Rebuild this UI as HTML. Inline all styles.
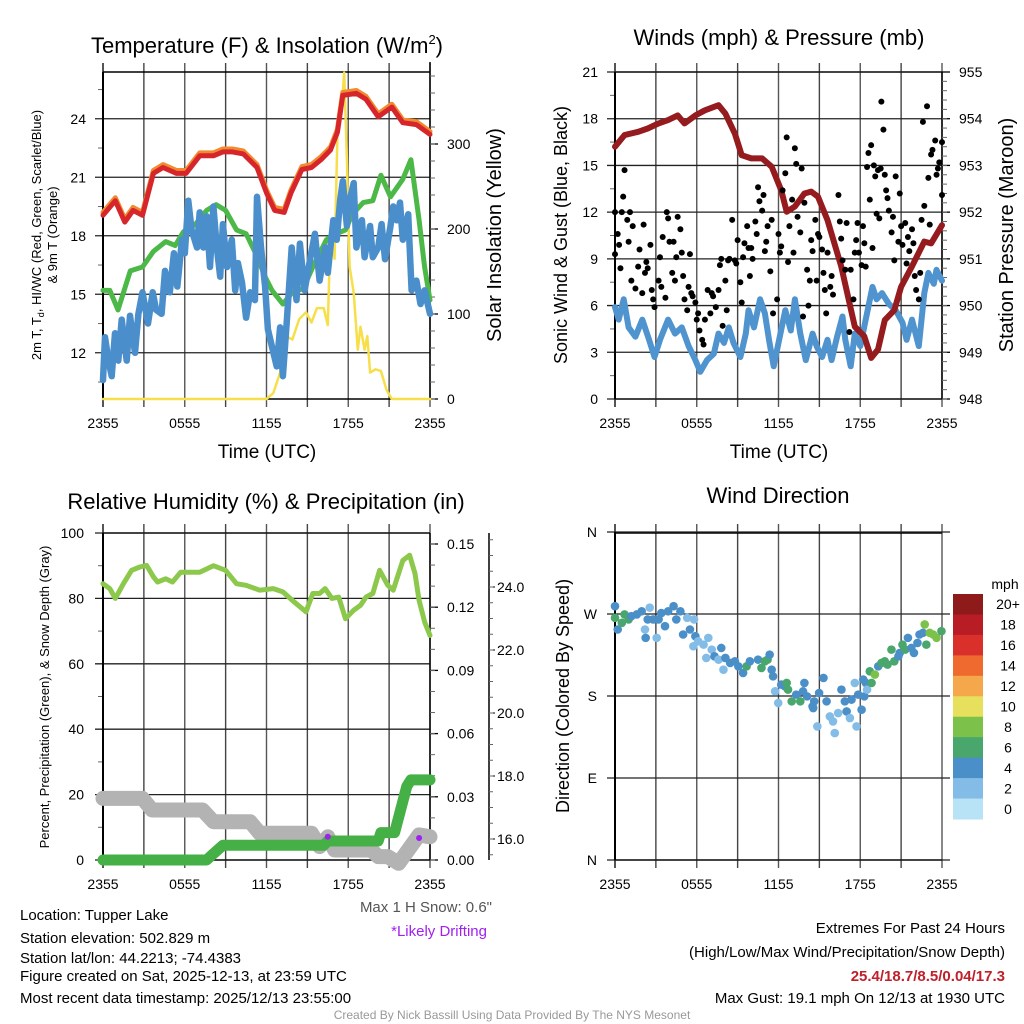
<!DOCTYPE html>
<html><head><meta charset="utf-8"><style>
html,body{margin:0;padding:0;background:#fff}
svg{display:block;font-family:"Liberation Sans",sans-serif}
</style></head><body>
<svg id="fig" width="1024" height="1024" viewBox="0 0 1024 1024" xmlns="http://www.w3.org/2000/svg">
<text x="267" y="53" font-size="22" text-anchor="middle">Temperature (F) &amp; Insolation (W/m<tspan font-size="13" dy="-9">2</tspan><tspan dy="9">)</tspan></text>
<text x="779" y="45" font-size="22" text-anchor="middle">Winds (mph) &amp; Pressure (mb)</text>
<text x="266" y="509" font-size="22" text-anchor="middle">Relative Humidity (%) &amp; Precipitation (in)</text>
<text x="778" y="503" font-size="22" text-anchor="middle">Wind Direction</text>
<g id="g1"></g>
<g id="g2"></g>
<g id="g3"></g>
<g id="g4"></g>
<g font-size="15">
<text x="20" y="920">Location: Tupper Lake</text>
<text x="20" y="943">Station elevation: 502.829 m</text>
<text x="20" y="963">Station lat/lon: 44.2213; -74.4383</text>
<text x="20" y="981">Figure created on Sat, 2025-12-13, at 23:59 UTC</text>
<text x="20" y="1003">Most recent data timestamp: 2025/12/13 23:55:00</text>
<text x="492" y="912" text-anchor="end" fill="#555">Max 1 H Snow: 0.6"</text>
<text x="487" y="936" text-anchor="end" fill="#a020f0">*Likely Drifting</text>
<text x="1005" y="933" text-anchor="end">Extremes For Past 24 Hours</text>
<text x="1005" y="957" text-anchor="end">(High/Low/Max Wind/Precipitation/Snow Depth)</text>
<text x="1005" y="981" text-anchor="end" fill="#c0202a" font-weight="bold">25.4/18.7/8.5/0.04/17.3</text>
<text x="1005" y="1003" text-anchor="end">Max Gust: 19.1 mph On 12/13 at 1930 UTC</text>
<text x="512" y="1019" text-anchor="middle" fill="#999" font-size="12">Created By Nick Bassill Using Data Provided By The NYS Mesonet</text>
</g>
</svg>
<script>
// ---- data ----
const timeTicks=['2355','0555','1155','1755','2355'];
const tRedH=[0,0.9,1.6,2.2,2.9,3.7,4.4,5.4,6.1,7.1,8.1,8.8,9.5,10.3,11.3,12.0,12.6,13.3,13.8,14.6,15.3,16.0,16.7,17.2,17.6,18.6,19.3,20.2,21.2,22.0,23.0,24.0];
const tRedV=[19.05,19.8,18.7,19.3,19.05,21.2,21.5,21.2,21.2,22.1,22.1,22.3,22.3,22.2,21.5,20.2,19.3,19.2,20.2,21.4,21.5,21.9,22.4,23.3,25.2,25.3,25.0,24.1,24.6,23.8,23.7,23.2];
const tGreenH=[0,0.5,1.1,2.0,2.9,3.7,4.6,5.3,5.9,6.8,7.6,8.3,9.0,9.8,10.5,11.2,11.9,12.4,13.2,13.9,14.7,15.4,16.4,17.1,17.8,18.3,19.1,19.8,20.4,21.1,22.0,22.6,23.2,23.6,24.0];
const tGreenV=[15.2,15.2,14.2,16.2,16.4,17.2,17.7,17.5,18.2,18.6,19.3,19.6,19.3,18.3,18.1,17.1,15.9,15.2,14.5,15.1,15.3,16.4,17.8,18.1,18.3,19.1,19.7,19.8,21.1,20.0,20.9,21.9,18.8,16.4,14.7];
const tBlueH=[0,0.15,0.4,0.64,0.88,1.12,1.37,1.74,1.98,2.35,2.6,2.9,3.3,3.65,3.9,4.3,4.55,4.9,5.2,5.45,5.8,6.0,6.26,6.5,6.9,7.1,7.36,7.6,7.85,8.1,8.35,8.6,8.8,9.1,9.45,9.7,9.9,10.2,10.5,10.8,11.15,11.3,11.6,11.9,12.1,12.4,12.75,13.0,13.2,13.5,13.85,14.2,14.45,14.8,15.2,15.55,15.9,16.3,16.5,16.9,17.15,17.4,17.6,17.9,18.1,18.4,18.6,19.0,19.2,19.6,19.8,20.2,20.45,20.7,21.1,21.3,21.55,21.8,22.0,22.4,22.65,23.0,23.3,23.6,24.0];
const tBlueV=[10.6,12.8,11.6,10.8,13.0,11.6,13.7,11.6,13.9,12.0,14.0,15.1,13.5,15.1,14.2,14.0,16.2,15.1,17.1,15.4,17.8,17.1,19.8,18.3,17.4,19.2,17.4,19.0,16.4,19.5,17.4,15.9,18.6,16.4,17.8,15.2,16.6,15.6,13.8,15.1,14.7,20.0,17.4,15.4,13.2,12.3,11.3,13.3,10.8,13.7,17.4,14.7,17.6,15.2,16.8,18.1,15.7,17.4,16.1,18.8,17.8,19.8,20.8,18.5,19.8,20.7,17.4,18.8,16.9,18.5,16.9,17.4,18.6,16.8,18.5,19.5,18.8,19.7,17.8,19.1,15.2,15.7,14.5,15.2,14.0];
const solarH=[0,12.0,12.5,13.0,13.4,13.9,14.4,14.9,15.3,15.7,16.2,16.5,16.7,17.0,17.2,17.5,17.7,17.9,18.1,18.4,18.7,18.9,19.2,19.4,19.6,20.0,20.4,20.8,21.2,21.7,24.0];
const solarV=[0,0,7,31,74,70,94,102,90,107,107,87,199,165,309,340,384,282,156,125,58,85,58,74,31,35,33,11,0,0,0];
const windH=[0,0.27,0.64,1.0,1.5,2.0,2.5,2.9,3.3,3.9,4.4,4.9,5.4,5.9,6.26,6.75,7.25,7.6,8.0,8.35,8.7,9.2,9.6,9.8,10.2,10.65,11.0,11.3,11.65,12.0,12.5,12.9,13.2,13.6,14.0,14.5,14.8,15.2,15.6,15.9,16.3,16.7,16.9,17.3,17.6,18.0,18.4,18.9,19.2,19.6,20.1,20.6,21.1,21.4,21.8,22.3,22.7,23.0,23.4,23.6,24.0];
const windV=[5.9,5.1,6.4,4.6,4.0,5.1,3.8,2.7,3.8,5.1,4.2,4.6,3.4,2.5,1.75,2.5,2.9,4.2,3.6,4.6,3.6,2.7,4.2,5.7,4.6,6.4,5.5,3.8,2.1,3.6,5.7,4.4,6.4,4.2,2.5,4.2,3.4,2.7,3.8,2.5,4.0,5.3,3.8,2.1,4.2,3.4,5.1,7.2,6.4,6.8,6.1,5.7,4.9,3.8,5.1,3.4,6.8,8.1,7.4,8.3,7.6];
const presH=[0,0.7,1.7,2.4,3.2,3.9,4.6,5.1,5.9,6.6,7.6,8.1,8.8,9.3,10.0,10.8,11.5,12.2,12.6,13.2,13.9,14.4,14.9,15.6,16.6,17.6,18.3,18.8,19.3,19.8,20.5,21.0,21.8,22.7,23.2,24.0];
const presV=[953.40,953.65,953.72,953.79,953.90,953.97,954.07,953.90,954.07,954.18,954.29,954.11,953.68,953.22,953.15,953.15,952.97,952.47,952.01,952.12,952.40,952.44,952.33,951.83,950.84,949.55,949.34,948.88,949.06,949.69,949.90,950.40,950.84,951.37,951.33,951.72];
const gustH=[0,0,0.2,0.3,0.4,0.7,0.6,0.5,0.9,1.0,1.1,1.2,1.5,1.3,1.7,1.8,2.0,2.1,2.2,2.3,2.4,2.6,2.7,2.8,2.9,3.2,3.3,3.4,3.5,3.7,3.8,3.9,4.0,4.2,4.3,4.4,4.5,4.6,4.8,4.9,5.0,5.1,5.3,5.4,5.5,5.6,5.7,5.9,6.0,6.1,6.2,6.4,6.5,6.6,6.8,7.0,7.1,7.2,7.4,7.6,7.7,7.8,7.9,8.1,8.2,8.3,8.4,8.6,8.8,8.9,9.0,9.2,9.3,9.4,9.5,9.7,9.8,9.9,10.0,10.1,10.3,10.4,10.5,10.6,10.8,10.9,11.0,11.1,11.2,11.4,11.5,11.6,11.9,12.0,12.1,12.2,12.3,12.5,12.6,12.7,12.8,13.0,13.1,13.2,13.3,13.4,13.6,13.7,13.8,13.9,14.1,14.2,14.3,14.4,14.5,14.7,14.8,14.9,15.0,15.2,15.3,15.4,15.5,15.6,15.8,15.9,16.0,16.4,16.5,16.6,16.7,16.9,17.0,17.2,17.3,17.5,17.6,17.7,17.8,17.9,18.1,18.2,18.3,18.4,18.5,18.6,18.7,18.8,18.9,19.0,19.1,19.2,19.3,19.4,19.5,19.55,19.7,19.8,19.9,20.0,20.1,20.3,20.4,20.5,20.6,20.8,20.9,21.0,21.1,21.3,21.4,21.5,21.6,21.8,21.9,22.0,22.1,22.3,22.4,22.5,22.6,22.7,22.9,23.0,23.1,23.2,23.3,23.5,23.6,23.7,23.8,24.0,24.0];
const gustV=[12.0,9.3,10.6,9.9,8.4,14.7,13.0,12.0,11.5,10.1,12.0,7.6,7.1,11.1,8.5,9.6,6.8,11.2,8.1,8.8,8.4,9.9,7.0,6.4,5.9,7.6,9.1,7.2,10.4,6.5,12.0,11.6,10.1,8.1,10.1,7.6,9.1,11.7,10.9,9.4,7.9,6.4,5.7,7.2,9.3,6.8,6.6,6.2,5.1,5.5,4.4,3.8,3.5,5.1,7.0,5.5,6.8,6.6,5.9,7.0,8.6,9.0,4.7,7.6,5.7,8.9,9.0,11.5,8.9,8.7,10.2,7.5,6.2,9.1,10.0,11.1,9.7,7.9,9.7,9.0,11.4,10.6,13.6,12.7,12.1,13.1,9.5,10.1,11.1,8.2,11.5,5.5,6.4,10.6,9.4,9.8,13.4,14.5,16.8,8.8,11.1,12.8,9.4,16.1,15.1,11.7,10.7,14.8,5.3,12.6,8.3,6.0,7.6,10.2,9.5,11.5,7.6,10.6,10.4,9.6,8.1,7.0,5.5,9.4,7.2,7.9,6.7,13.1,11.4,10.3,8.9,8.3,11.3,4.3,8.3,6.4,9.4,10.2,11.3,9.4,8.6,11.1,10.0,8.5,14.9,15.8,12.8,16.3,9.7,15.0,14.3,11.9,14.7,11.6,14.8,19.1,17.3,14.4,13.4,12.9,12.1,10.7,11.7,8.9,14.3,10.1,13.2,11.1,9.9,11.3,8.7,10.4,9.5,10.9,10.0,7.9,7.0,6.4,8.1,11.5,17.8,12.4,18.8,14.2,11.2,15.7,16.0,16.6,14.4,14.8,15.2,13.1,16.5];
const rhH=[0,0.5,0.9,1.5,2.1,2.7,3.2,3.7,4.0,4.6,5.1,5.7,7.1,8.1,9.0,9.8,10.5,11.5,12.5,13.2,13.9,14.9,15.4,15.9,16.3,16.8,17.3,17.8,18.4,18.9,19.3,19.8,20.3,20.9,21.3,22.0,22.5,22.9,23.2,23.6,24.0];
const rhV=[84.5,83,80,84.5,88.6,89.6,90.1,86.6,85,86,85,88,88,90,88.6,84.5,84,82.5,83,82,79.4,75.9,81.5,81.5,83,80,80.4,73.8,76.4,77.9,80.4,81.5,88.6,84,82.5,91.6,93.2,87.6,79.4,72.8,68.7];
const precipH=[0,7.6,8.1,8.8,16.2,16.5,20.2,20.4,21.4,22.3,22.6,24.0];
const precipV=[0,0,0.003,0.007,0.007,0.009,0.009,0.013,0.013,0.035,0.038,0.038];
const snowH=[0,2.9,3.6,7.3,8.1,10.8,11.5,15.3,15.9,16.5,17.0,19.7,20.2,20.9,21.7,22.4,23.2,24.0];
const snowV=[17.29,17.29,16.92,16.92,16.55,16.55,16.18,16.18,15.76,16.07,15.65,15.65,15.44,15.44,15.23,15.65,16.13,16.07];
const driftH=[16.5,23.2];
const driftV=[16.07,16.03];
const dirH=[0,0,0.2,0.5,0.7,1.0,1.2,1.6,1.96,2.2,2.25,2.4,2.55,2.8,3.06,3.2,3.4,3.67,3.9,4.3,4.5,4.8,5.0,5.3,5.5,5.8,5.9,5.75,6.1,6.5,6.85,6.7,7.1,7.3,7.6,7.8,7.96,8.1,8.45,8.8,9.05,9.4,9.66,9.9,10.5,10.75,11.0,11.2,11.35,11.5,11.6,11.75,11.98,12.2,12.47,12.6,12.7,12.97,13.3,13.6,13.8,13.9,14.1,14.5,14.62,14.55,14.85,14.98,15.3,15.53,15.77,16.0,16.13,16.38,16.62,16.87,17.0,17.24,17.36,17.6,17.73,17.85,18.1,18.22,18.3,18.41,18.5,18.7,18.83,19.07,19.32,19.56,19.8,20.0,20.29,20.5,20.8,20.9,21.1,21.3,21.5,21.75,21.94,22.2,22.35,22.6,22.73,22.85,23.1,23.35,23.6,23.96];
const dirV=[278.6,265.8,253,260.3,269.5,264,267.6,269.5,273,253,243.8,264,277,264,243.8,264,271,256.6,273,278.6,264,273,247.5,265.8,253,264,245.6,234.6,240,236.4,243.8,221.8,230.9,223.6,219.9,232.7,208.9,221.8,216.3,218.1,212.6,205.3,212.6,218.1,219.9,210.8,218.1,219.9,225.4,208.9,201.6,185.1,172.3,192.5,190.6,194.3,187,174.1,181.5,174.1,185.1,194.3,179.6,168.6,174.1,166.8,146.6,183.3,199.8,174.1,157.6,152.1,139.3,161.3,187,174.1,163.1,155.8,176,194.3,146.6,181.5,165,198,179.6,194.3,187,207.1,194.3,203.5,212.6,216.3,218.1,214.5,230.9,218.1,223.6,227.3,236.4,230.9,243.8,232.7,227.3,238.2,247.5,249.3,258.5,236.4,249.3,247.5,243.8,251.1,251.1,262.2];
const dirSpd=[4,6,4,6,6,6,4,4,4,2,4,4,2,4,2,4,4,4,4,4,4,4,4,2,4,2,4,2,2,2,2,2,2,4,2,4,2,4,4,4,4,4,6,4,4,6,6,6,4,4,4,2,2,4,4,6,6,6,4,6,4,4,4,4,4,4,2,4,4,4,2,2,2,2,4,4,4,2,4,2,2,4,4,4,4,4,2,6,6,8,4,6,6,6,6,6,4,4,6,6,4,4,4,4,4,4,8,6,8,8,8,6,8,8];
const barLabels=['20+','18','16','14','12','10','8','6','4','2','0'];
const barColors=['#8e1a1a','#b81c25','#d9302b','#ee6a2e','#f5a74b','#e6e05c','#7cc24a','#49a66d','#4a8fc8','#83bce6','#b8e2f6'];

const NS='http://www.w3.org/2000/svg';
function mk(p,tag,attrs){const e=document.createElementNS(NS,tag);for(const k in attrs)e.setAttribute(k,attrs[k]);p.appendChild(e);return e;}
function txt(p,x,y,s,size,anchor,extra){const t=mk(p,'text',Object.assign({x:x,y:y,'font-size':size,'text-anchor':anchor||'start'},extra||{}));t.textContent=s;return t;}
const L=103,R=430,T=72,B=399;
function panel(g,ox,oy){
  const x0=L+ox,x1=R+ox,y0=T+oy,y1=B+oy;
  for(let i=0;i<=8;i++){const x=x0+(x1-x0)*i/8;const ln=mk(g,'line',{x1:x,x2:x,y1:y0-9,y2:y1+8,stroke:(i%2?'#444':'#555'),'stroke-width':(i==0?2:1.4)});
    
    }
  mk(g,'line',{x1:x0,x2:x1,y1:y0,y2:y0,stroke:'#000','stroke-width':1.5});
  mk(g,'line',{x1:x0,x2:x1,y1:y1,y2:y1,stroke:'#000','stroke-width':1.5});
  timeTicks.forEach((s,i)=>{const t=txt(g,x0+(x1-x0)*i/4,y1+29,s,14,'middle');
    
    });
  return {x:h=>x0+(x1-x0)*h/24,x0,x1,y0,y1};
}
function hgrid(g,p,y,label,lx,col){
  mk(g,'line',{x1:p.x0-8,x2:p.x1+(col?8:0),y1:y,y2:y,stroke:'#222','stroke-width':1.3});
  if(label!=null){const t=txt(g,lx,y+5,label,14,'end');
    
    }
}
function poly(g,xs,ys,fx,fy,color,w,name){
  const pts=xs.map((h,i)=>fx(h).toFixed(1)+','+fy(ys[i]).toFixed(1)).join(' ');
  const e=mk(g,'polyline',{points:pts,fill:'none',stroke:color,'stroke-width':w,'stroke-linejoin':'round','stroke-linecap':'round'});
  
  
  return e;
}
function rightAxis(g,x,ya,yb,majors,minorStep,fy,labFmt){
  mk(g,'line',{x1:x,x2:x,y1:ya,y2:yb,stroke:'#000','stroke-width':1.5});
  majors.forEach(v=>{const y=fy(v);mk(g,'line',{x1:x,x2:x+8,y1:y,y2:y,stroke:'#000','stroke-width':1.3});
    const t=txt(g,x+17,y+5,labFmt(v),14,'start');
    
    });
  for(let y=yb;y>=ya;y-=minorStep){mk(g,'line',{x1:x,x2:x+5,y1:y,y2:y,stroke:'#666','stroke-width':1});}
}
// ---- panel 1 ----
(function(){
  const g=document.getElementById('g1');const p=panel(g,0,0);
  const fy=v=>B-(v-9.63)*19.5; const fs=v=>B-v*0.85;
  [12,15,18,21,24].forEach(v=>hgrid(g,p,fy(v),String(v),86));
  for(let v=10.5;v<26.5;v+=1.5){if(v%3)mk(g,'line',{x1:p.x0-5,x2:p.x0,y1:fy(v),y2:fy(v),stroke:'#666'});}
  rightAxis(g,R,T-10,B,[0,100,200,300],17,fs,v=>String(v));
  mk(g,'line',{x1:L,x2:L,y1:T,y2:B,stroke:'#000','stroke-width':2});
  poly(g,solarH,solarV,p.x,fs,'#f7df4a',2.5,'solar-line');
  poly(g,tGreenH,tGreenV,p.x,fy,'#4cb848',5,'dewpoint-line');
  poly(g,tBlueH,tBlueV,p.x,fy,'#4a8fcb',6.5,'windchill-line');
  poly(g,tRedH,tRedV.map(v=>v+0.15),p.x,fy,'#f28a30',5,'temp9m-line');
  poly(g,tRedH,tRedV,p.x,fy,'#d7262b',5,'temp2m-line');
  let t=txt(g,267,458,'Time (UTC)',19,'middle');
  t=mk(g,'text',{x:0,y:0,'font-size':13,'text-anchor':'middle',transform:'translate(41,235) rotate(-90)'});t.innerHTML='2m T, T<tspan font-size="9" dy="3">d</tspan><tspan dy="-3">, HI/WC (Red, Green, Scarlet/Blue)</tspan>';
  
  t=txt(g,0,0,'& 9m T (Orange)',13,'middle',{transform:'translate(57,235) rotate(-90)'});
  t=txt(g,0,0,'Solar Insolation (Yellow)',20,'middle',{transform:'translate(501,235) rotate(-90)'});
})();
// ---- panel 2 ----
(function(){
  const g=document.getElementById('g2');const p=panel(g,512,0);
  const fy=v=>B-v*(B-T)/21; const fp=v=>B-(v-948)*(B-T)/7;
  [0,3,6,9,12,15,18,21].forEach(v=>hgrid(g,p,fy(v),String(v),598));
  for(let v=1.5;v<21;v+=3){mk(g,'line',{x1:p.x0-5,x2:p.x0,y1:fy(v),y2:fy(v),stroke:'#666'});}
  rightAxis(g,p.x1,T,B,[948,949,950,951,952,953,954,955],(B-T)/35,fp,v=>String(v));
  mk(g,'line',{x1:p.x0,x2:p.x0,y1:T,y2:B,stroke:'#000','stroke-width':2});
  poly(g,windH,windV,p.x,fy,'#4f93cf',6,'sonic-wind-line');
  poly(g,presH,presV,p.x,fp,'#951b1e',6,'pressure-line');
  gustH.forEach((h,i)=>{const c=mk(g,'circle',{cx:p.x(h),cy:fy(gustV[i]),r:3,fill:'#000'});
    
    });
  let t=txt(g,779,458,'Time (UTC)',19,'middle');
  t=txt(g,0,0,'Sonic Wind & Gust (Blue, Black)',18,'middle',{transform:'translate(567,235) rotate(-90)'});
  t=txt(g,0,0,'Station Pressure (Maroon)',20,'middle',{transform:'translate(1013,235) rotate(-90)'});
})();
// ---- panel 3 ----
(function(){
  const g=document.getElementById('g3');const p=panel(g,0,461);
  const y0=533,y1=860;
  const fy=v=>y1-v*(y1-y0)/100; const fpr=v=>y1-v*(y1-544)/0.15; const fsn=v=>839-(v-16)*31.5;
  [0,20,40,60,80,100].forEach(v=>hgrid(g,p,fy(v),String(v),84));
  for(let v=10;v<100;v+=20){mk(g,'line',{x1:p.x0-5,x2:p.x0,y1:fy(v),y2:fy(v),stroke:'#666'});}
  rightAxis(g,R,y0,y1,[0,0.03,0.06,0.09,0.12,0.15],(y1-544)/15,fpr,v=>v.toFixed(2));
  mk(g,'line',{x1:489,x2:489,y1:533,y2:860,stroke:'#000','stroke-width':1.5});
  [16,18,20,22,24].forEach(v=>{mk(g,'line',{x1:489,x2:495,y1:fsn(v),y2:fsn(v),stroke:'#000'});
    const t=txt(g,497,fsn(v)+5,v.toFixed(1),14,'start');});
  for(let v=15.5;v<26;v+=0.5){const y=fsn(v);if(y>533&&y<860)mk(g,'line',{x1:489,x2:493,y1:y,y2:y,stroke:'#666'});}
  mk(g,'line',{x1:L,x2:L,y1:y0,y2:y1,stroke:'#000','stroke-width':2});
  poly(g,rhH,rhV,p.x,fy,'#8cc84b',5,'rh-line');
  poly(g,snowH,snowV,p.x,fsn,'#b3b3b3',15,'snow-depth-line');
  poly(g,precipH,precipV,p.x,fpr,'#45b045',11,'precip-line');
  driftH.forEach((h,i)=>{const c=mk(g,'circle',{cx:p.x(h),cy:fsn(driftV[i]),r:3,fill:'#a020f0'});
    
    });
  let t=txt(g,0,0,'Percent, Precipitation (Green), & Snow Depth (Gray)',13,'middle',{transform:'translate(49,697) rotate(-90)'});
})();
// ---- panel 4 ----
(function(){
  const g=document.getElementById('g4');const p=panel(g,512,461);
  const y0=532,y1=860; const fy=d=>y1-d*(y1-y0)/360;
  [[0,'N'],[90,'E'],[180,'S'],[270,'W'],[360,'N']].forEach(a=>hgrid(g,p,fy(a[0]),a[1],597,true));
  mk(g,'line',{x1:p.x0,x2:p.x0,y1:y0,y2:y1,stroke:'#000','stroke-width':2});
  const col={2:'#83bce6',4:'#4a8fc8',6:'#49a66d',8:'#7cc24a'};
  dirH.forEach((h,i)=>{const c=mk(g,'circle',{cx:p.x(h),cy:fy(dirV[i]),r:4.3,fill:col[dirSpd[i]]});
    
    });
  let t=txt(g,0,0,'Direction (Colored By Speed)',18,'middle',{transform:'translate(569,696) rotate(-90)'});
  t=txt(g,1005,589,'mph',14,'middle');
  const bh=(819-594)/11;
  barLabels.forEach((s,i)=>{const r=mk(g,'rect',{x:953,y:594+i*bh,width:30,height:bh+0.5,fill:barColors[i]});
    
    
    const t2=txt(g,1008,594+i*bh+bh/2+5,s,14,'middle');
    
    });
})();
</script>
</body></html>
